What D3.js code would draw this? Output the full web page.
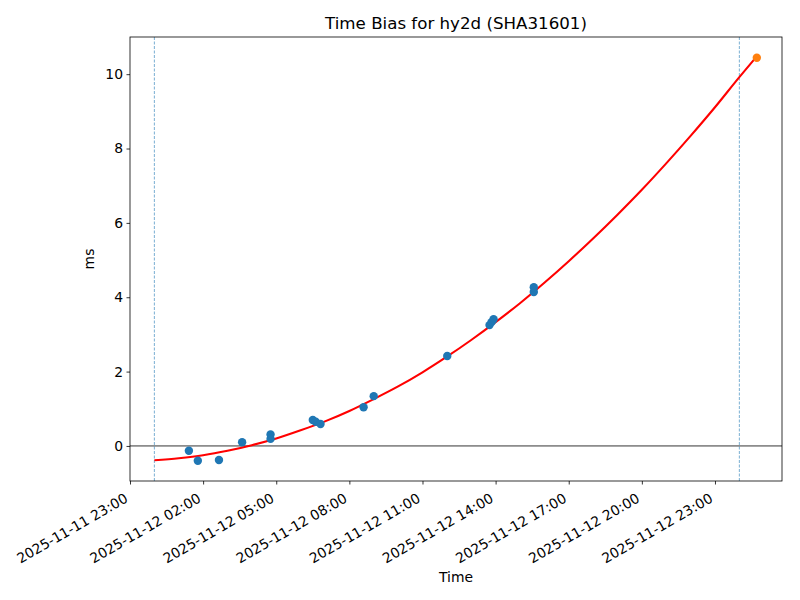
<!DOCTYPE html>
<html>
<head>
<meta charset="utf-8">
<script src="https://cdn.jsdelivr.net/npm/d3@7"></script>
<style>
  html, body { margin: 0; padding: 0; background: #fff; }
  svg { display: block; font-family: "DejaVu Sans", sans-serif; }
</style>
</head>
<body>
<svg id="chart" width="800" height="600"></svg>
<script>
// ---- data ----
const title = "Time Bias for hy2d (SHA31601)";
const xLabel = "Time";
const yLabel = "ms";

// measured samples (blue points)
const sampleTimes = [
  "2025-11-12 01:25", "2025-11-12 01:47", "2025-11-12 02:39", "2025-11-12 03:36",
  "2025-11-12 04:46", "2025-11-12 04:46", "2025-11-12 06:30", "2025-11-12 06:37",
  "2025-11-12 06:49", "2025-11-12 08:35", "2025-11-12 09:00", "2025-11-12 12:01",
  "2025-11-12 13:45", "2025-11-12 13:50", "2025-11-12 13:55", "2025-11-12 15:34",
  "2025-11-12 15:34"
];
const sampleValues = [
  -0.13, -0.40, -0.38, 0.10,
  0.31, 0.19, 0.70, 0.65,
  0.59, 1.04, 1.34, 2.42,
  3.25, 3.33, 3.41, 4.14,
  4.27
];

// predicted point (orange)
const predTimes = ["2025-11-13 00:43"];
const predValues = [10.44];

// fitted curve (red line)
const curveTimes = [
  "2025-11-12 00:00", "2025-11-12 01:00", "2025-11-12 02:00", "2025-11-12 03:00",
  "2025-11-12 04:00", "2025-11-12 05:00", "2025-11-12 06:00", "2025-11-12 07:00",
  "2025-11-12 08:00", "2025-11-12 09:00", "2025-11-12 10:00", "2025-11-12 11:00",
  "2025-11-12 12:00", "2025-11-12 13:00", "2025-11-12 14:00", "2025-11-12 15:00",
  "2025-11-12 16:00", "2025-11-12 17:00", "2025-11-12 18:00", "2025-11-12 19:00",
  "2025-11-12 20:00", "2025-11-12 21:00", "2025-11-12 22:00", "2025-11-12 23:00",
  "2025-11-13 00:00", "2025-11-13 00:43"
];
const curveValues = [
  -0.385, -0.33, -0.25, -0.13,
  0.02, 0.20, 0.42, 0.66,
  0.94, 1.26, 1.60, 1.98,
  2.40, 2.85, 3.33, 3.84,
  4.39, 4.97, 5.58, 6.22,
  6.89, 7.60, 8.34, 9.11,
  9.92, 10.48
];

// vertical dashed markers
const markerTimes = ["2025-11-12 00:00", "2025-11-13 00:00"];

// axes
const xDomain = ["2025-11-11 23:00", "2025-11-13 01:45"];
const xTicks = [
  "2025-11-11 23:00", "2025-11-12 02:00", "2025-11-12 05:00", "2025-11-12 08:00",
  "2025-11-12 11:00", "2025-11-12 14:00", "2025-11-12 17:00", "2025-11-12 20:00",
  "2025-11-12 23:00"
];
const yDomain = [-0.943, 11.0];
const yTicks = [0, 2, 4, 6, 8, 10];

// ---- drawing ----
const parse = d3.utcParse("%Y-%m-%d %H:%M");
const fmt = d3.utcFormat("%Y-%m-%d %H:%M");
const svg = d3.select("#chart");
const pLeft = 130, pRight = 782, pTop = 37, pBottom = 481;

const x = d3.scaleUtc().domain(xDomain.map(parse)).range([pLeft, pRight]);
const y = d3.scaleLinear().domain(yDomain).range([pBottom, pTop]);

svg.append("defs").append("clipPath").attr("id", "clip")
  .append("rect").attr("x", pLeft).attr("y", pTop)
  .attr("width", pRight - pLeft).attr("height", pBottom - pTop);

const plot = svg.append("g").attr("clip-path", "url(#clip)");

// zero line
plot.append("line")
  .attr("x1", pLeft).attr("x2", pRight)
  .attr("y1", y(0)).attr("y2", y(0))
  .attr("stroke", "#000").attr("stroke-width", 0.8);

// dashed markers
plot.selectAll(".marker").data(markerTimes).enter().append("line")
  .attr("x1", d => x(parse(d))).attr("x2", d => x(parse(d)))
  .attr("y1", pTop).attr("y2", pBottom)
  .attr("stroke", "#1f77b4").attr("stroke-width", 0.6)
  .attr("stroke-dasharray", "3,1.5");

// curve
const curveData = curveTimes.map((t, i) => ({ t: parse(t), v: curveValues[i] }));
plot.append("path")
  .datum(curveData)
  .attr("fill", "none").attr("stroke", "#ff0000").attr("stroke-width", 2.08)
  .attr("d", d3.line().x(d => x(d.t)).y(d => y(d.v)).curve(d3.curveMonotoneX));

// samples
plot.selectAll(".pt").data(sampleTimes.map((t, i) => ({ t: parse(t), v: sampleValues[i] })))
  .enter().append("circle")
  .attr("cx", d => x(d.t)).attr("cy", d => y(d.v)).attr("r", 4.2)
  .attr("fill", "#1f77b4");

// prediction
plot.selectAll(".pred").data(predTimes.map((t, i) => ({ t: parse(t), v: predValues[i] })))
  .enter().append("circle")
  .attr("cx", d => x(d.t)).attr("cy", d => y(d.v)).attr("r", 4.2)
  .attr("fill", "#ff7f0e");

// frame
svg.append("rect")
  .attr("x", pLeft).attr("y", pTop).attr("width", pRight - pLeft).attr("height", pBottom - pTop)
  .attr("fill", "none").attr("stroke", "#000").attr("stroke-width", 0.8);

// x axis
const xAxis = d3.axisBottom(x).tickValues(xTicks.map(parse)).tickFormat(fmt)
  .tickSize(3.5).tickSizeOuter(0);
const gx = svg.append("g").attr("transform", `translate(0,${pBottom})`).call(xAxis);
gx.select(".domain").remove();
gx.selectAll(".tick line").attr("stroke", "#000").attr("stroke-width", 0.8);
gx.selectAll(".tick text")
  .attr("font-size", "13.9px").attr("font-family", "DejaVu Sans, sans-serif")
  .attr("fill", "#000")
  .attr("text-anchor", "end")
  .attr("dy", null)
  .attr("y", 0).attr("x", 0)
  .attr("transform", "translate(0,23) rotate(-30) translate(0,-3.3)");

// y axis
const yAxis = d3.axisLeft(y).tickValues(yTicks).tickFormat(d3.format("d"))
  .tickSize(3.5).tickSizeOuter(0).tickPadding(3.5);
const gy = svg.append("g").attr("transform", `translate(${pLeft},0)`).call(yAxis);
gy.select(".domain").remove();
gy.selectAll(".tick line").attr("stroke", "#000").attr("stroke-width", 0.8);
gy.selectAll(".tick text")
  .attr("font-size", "13.9px").attr("font-family", "DejaVu Sans, sans-serif")
  .attr("fill", "#000");

// labels
svg.append("text")
  .attr("x", (pLeft + pRight) / 2).attr("y", 29)
  .attr("text-anchor", "middle").attr("font-size", "16.67px")
  .attr("fill", "#000").text(title);

svg.append("text")
  .attr("x", (pLeft + pRight) / 2).attr("y", 582)
  .attr("text-anchor", "middle").attr("font-size", "13.9px")
  .attr("fill", "#000").text(xLabel);

svg.append("text")
  .attr("transform", `translate(94,${(pTop + pBottom) / 2}) rotate(-90)`)
  .attr("text-anchor", "middle").attr("font-size", "13.9px")
  .attr("fill", "#000").text(yLabel);
</script>
</body>
</html>
